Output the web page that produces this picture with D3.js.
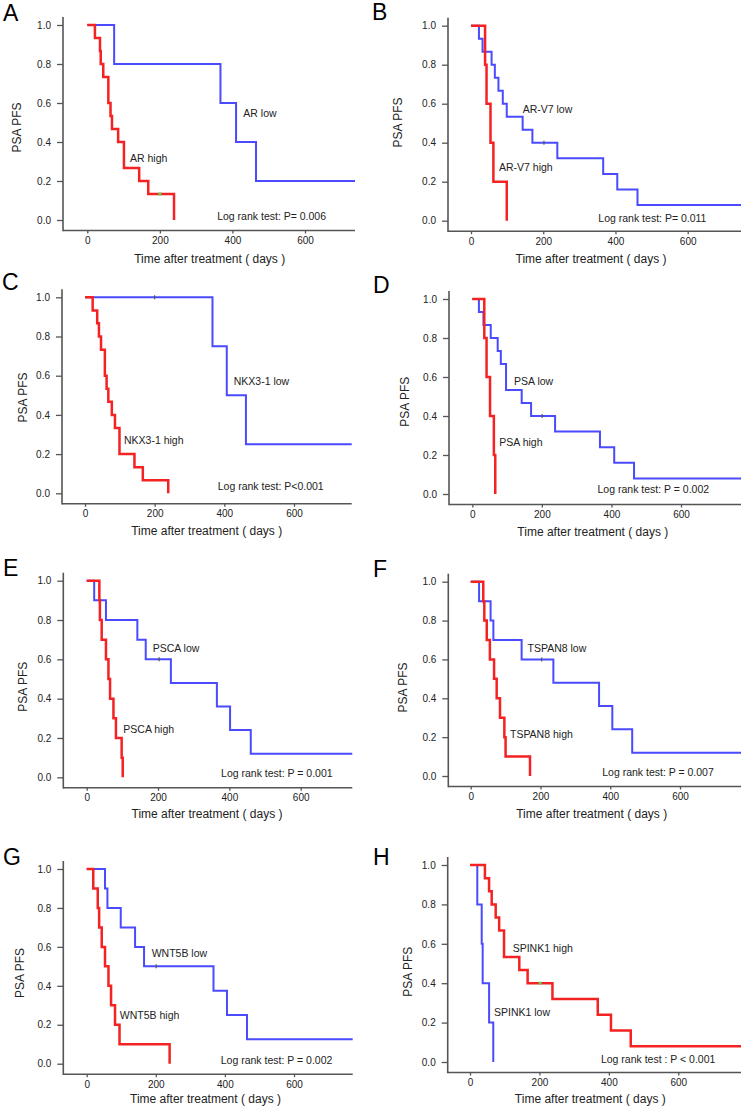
<!DOCTYPE html>
<html>
<head>
<meta charset="utf-8">
<script src="https://cdn.jsdelivr.net/npm/d3@7"></script>
<style>
  body { margin: 0; background: #fff; }
  svg { display: block; font-family: "Liberation Sans", Arial, sans-serif; }
</style>
</head>
<body>
<svg id="chart" width="741" height="1108"></svg>
<script>
// ---- data: [day, survival after the step] ----
const xTicks = [0, 200, 400, 600];
const yTicks = [0, 0.2, 0.4, 0.6, 0.8, 1.0];

const panelLetters = ["A", "B", "C", "D", "E", "F", "G", "H"];
const highNames = ["AR high", "AR-V7 high", "NKX3-1 high", "PSA high", "PSCA high", "TSPAN8 high", "WNT5B high", "SPINK1 high"];
const lowNames = ["AR low", "AR-V7 low", "NKX3-1 low", "PSA low", "PSCA low", "TSPAN8 low", "WNT5B low", "SPINK1 low"];
const pTexts = ["Log rank test: P= 0.006", "Log rank test: P= 0.011", "Log rank test: P<0.001", "Log rank test: P = 0.002",
  "Log rank test: P = 0.001", "Log rank test: P = 0.007", "Log rank test: P = 0.002", "Log rank test : P < 0.001"];

const arHigh = [[0,1],[21,0.933],[35,0.867],[37,0.8],[44,0.733],[58,0.6],[64,0.533],[68,0.467],[85,0.4],[101,0.267],[143,0.2],[168,0.133],[239,0]];
const arLow = [[0,1],[74,0.8],[367,0.6],[410,0.4],[465,0.2]];
const arv7High = [[0,1],[39,0.8],[43,0.6],[54,0.4],[62,0.2],[99,0]];
const arv7Low = [[0,1],[22,0.933],[32,0.867],[57,0.8],[66,0.733],[76,0.667],[88,0.6],[99,0.533],[143,0.467],[170,0.4],[239,0.32],[366,0.24],[405,0.16],[461,0.08]];
const nkxHigh = [[0,1],[22,0.933],[35,0.867],[40,0.8],[46,0.733],[57,0.6],[62,0.533],[67,0.467],[77,0.4],[86,0.333],[99,0.2],[142,0.133],[166,0.067],[239,0]];
const nkxLow = [[0,1],[366,0.75],[407,0.5],[462,0.25]];
const psaHigh = [[0,1],[34.5,0.8],[41,0.6],[51,0.4],[62,0.2],[66,0]];
const psaLow = [[0,1],[19,0.933],[32,0.867],[53,0.8],[73,0.733],[82,0.667],[97,0.533],[142,0.467],[169,0.4],[238,0.32],[367,0.24],[408,0.16],[465,0.08]];
const pscaHigh = [[0,1],[35.5,0.9],[37,0.8],[42,0.7],[54,0.6],[61,0.5],[65.5,0.4],[75,0.3],[82,0.2],[98,0.1],[101,0]];
const pscaLow = [[0,1],[21,0.9],[54,0.8],[142,0.7],[165.5,0.6],[236,0.48],[365,0.36],[402,0.24],[460,0.12]];
const tspanHigh = [[0,1],[36,0.9],[39,0.8],[46,0.7],[55,0.6],[67,0.5],[74.5,0.4],[84,0.3],[96.5,0.2],[100,0.1],[170,0]];
const tspanLow = [[0,1],[24,0.9],[57,0.8],[65,0.7],[146,0.6],[237,0.48],[368,0.36],[406,0.24],[463,0.12]];
const wntHigh = [[0,1],[19,0.9],[32,0.8],[36,0.7],[43.5,0.6],[53,0.5],[63,0.4],[70.5,0.3],[82,0.2],[95,0.1],[240,0]];
const wntLow = [[0,1],[53,0.9],[60,0.8],[98.5,0.7],[140,0.6],[166,0.5],[367,0.375],[406,0.25],[464,0.125]];
const spinkHigh = [[0,1],[43,0.933],[55,0.867],[62.5,0.8],[74,0.733],[84,0.667],[98,0.533],[142,0.467],[166,0.4],[237.5,0.32],[368,0.24],[406,0.16],[463,0.08]];
const spinkLow = [[0,1],[21,0.8],[33.7,0.6],[36.5,0.4],[55,0.2],[67,0]];

const highCurves = [arHigh, arv7High, nkxHigh, psaHigh, pscaHigh, tspanHigh, wntHigh, spinkHigh];
const lowCurves = [arLow, arv7Low, nkxLow, psaLow, pscaLow, tspanLow, wntLow, spinkLow];
const highCensored = [[[200,0.133]], [], [], [], [], [], [], [[202,0.4]]];
const lowCensored = [[], [[202,0.4]], [[200,1]], [[201,0.4]], [[203,0.6]], [[203.5,0.6]], [[201,0.5]], []];

// ---- layout (pixels) ----
const layout = [
  {ax:63,   y1:25,    y0:220,    x0:87.3,  x600:305,   right:355,   yt:[17.2,127.5], xt:[209.7,263],    letter:[3,21],    lowLab:[430,0.53],  highLab:[117.6,0.3],  pLab:[358,0]},
  {ax:448,  y1:25.7,  y0:220.7,  x0:471,   x600:687.7, right:741,   yt:[397.5,122.5],xt:[591,263],      letter:[372,20],  lowLab:[143,0.554], highLab:[77.6,0.256], pLab:[352.6,-0.005]},
  {ax:62,   y1:297.3, y0:493.3,  x0:85,    x600:294,   right:351.7, yt:[23,397.5],   xt:[206.7,535.3],  letter:[2,290],   lowLab:[427,0.553], highLab:[112,0.25],   pLab:[381,0.017]},
  {ax:449,  y1:299,   y0:494,    x0:472.3, x600:681,   right:741,   yt:[405,401.7],  xt:[592.8,535.7],  letter:[373,293], lowLab:[120,0.559], highLab:[77.6,0.248], pLab:[360,0.005]},
  {ax:63.3, y1:580.7, y0:777.3,  x0:86.7,  x600:300.7, right:352.3, yt:[23.3,686.7], xt:[207,817.7],    letter:[3,576],   lowLab:[185,0.639], highLab:[102.7,0.224],pLab:[376.7,0]},
  {ax:448.3,y1:581.7, y0:776,    x0:470.7, x600:680,   right:741,   yt:[403,687.5],  xt:[591.7,818.3],  letter:[373,577], lowLab:[163,0.637], highLab:[112.6,0.194],pLab:[377,0]},
  {ax:63.3, y1:869,   y0:1063.7, x0:86.7,  x600:294,   right:352.7, yt:[20,973],     xt:[205.5,1102.7], letter:[3,865],   lowLab:[188,0.546], highLab:[96,0.23],    pLab:[388,0]},
  {ax:447.7,y1:865,   y0:1062,   x0:470,   x600:678.3, right:741,   yt:[408,971.7],  xt:[590.3,1102.7], letter:[373,865], lowLab:[69,0.233],  highLab:[123,0.56],   pLab:[377,-0.005]}
];

const colors = { high: "#f42222", low: "#4a4aff", axis: "#555", text: "#222", censorHigh: "#66cc55", censorLow: "#555" };

const svg = d3.select("#chart");

function drawPanel(i) {
  const L = layout[i];
  const g = svg.append("g");

  const x = d3.scaleLinear().domain([0, 600]).range([L.x0, L.x600]);
  const y = d3.scaleLinear().domain([0, 1]).range([L.y0, L.y1]);
  const axisY = L.y0 + 10.5;
  const xEnd = x.invert(L.right);

  // axes
  const yAxis = g.append("g")
    .attr("transform", `translate(${L.ax},0)`)
    .call(d3.axisLeft(y).tickValues(yTicks).tickFormat(d3.format(".1f")).tickSize(6).tickPadding(6));
  const xAxis = g.append("g")
    .attr("transform", `translate(0,${axisY})`)
    .call(d3.axisBottom(x).tickValues(xTicks).tickSize(3).tickPadding(3.5));
  [yAxis, xAxis].forEach(a => {
    a.select(".domain").remove();
    a.selectAll("line").attr("stroke", colors.axis).attr("stroke-width", 1.3);
    a.selectAll("text").attr("fill", colors.text).style("font-size", "10px")
      .style("font-family", '"Liberation Sans", Arial, sans-serif');
  });
  g.append("line").attr("x1", L.ax).attr("x2", L.ax).attr("y1", L.y1 - 8).attr("y2", axisY + 0.8)
    .attr("stroke", colors.axis).attr("stroke-width", 1.6);
  g.append("line").attr("x1", L.ax).attr("x2", L.right).attr("y1", axisY).attr("y2", axisY)
    .attr("stroke", colors.axis).attr("stroke-width", 1.6);

  // curves
  const line = d3.line().x(d => x(d[0])).y(d => y(d[1])).curve(d3.curveStepAfter);
  const withEnd = pts => {
    const last = pts[pts.length - 1];
    return last[1] > 0 ? pts.concat([[xEnd, last[1]]]) : pts;
  };
  g.append("path").datum(withEnd(lowCurves[i])).attr("d", line)
    .attr("fill", "none").attr("stroke", colors.low).attr("stroke-width", 2);
  g.append("path").datum(withEnd(highCurves[i])).attr("d", line)
    .attr("fill", "none").attr("stroke", colors.high).attr("stroke-width", 2.5);

  // censor marks
  g.selectAll(".cl").data(lowCensored[i]).join("line")
    .attr("x1", d => x(d[0])).attr("x2", d => x(d[0]))
    .attr("y1", d => y(d[1]) - 2).attr("y2", d => y(d[1]) + 2)
    .attr("stroke", colors.censorLow).attr("stroke-width", 1.2);
  g.selectAll(".ch").data(highCensored[i]).join("rect")
    .attr("x", d => x(d[0]) - 1.5).attr("y", d => y(d[1]) - 1.5)
    .attr("width", 3).attr("height", 3).attr("fill", colors.censorHigh);

  // texts
  const txt = (t, px, py, size, extra) => {
    const el = g.append("text").attr("x", px).attr("y", py).attr("fill", colors.text)
      .style("font-size", size + "px").text(t);
    if (extra) extra(el);
    return el;
  };
  txt(lowNames[i], x(L.lowLab[0]), y(L.lowLab[1]), 10.5);
  txt(highNames[i], x(L.highLab[0]), y(L.highLab[1]), 10.5);
  txt(pTexts[i], x(L.pLab[0]), y(L.pLab[1]), 10.5);
  txt("Time after treatment ( days )", L.xt[0], L.xt[1], 12, el => el.attr("text-anchor", "middle"));
  txt("PSA PFS", 0, 0, 12, el => el.attr("text-anchor", "middle")
    .attr("transform", `translate(${L.yt[0] + 4},${L.yt[1]}) rotate(-90)`));
  g.append("text").attr("x", L.letter[0]).attr("y", L.letter[1]).attr("fill", "#000")
    .style("font-size", "23px").text(panelLetters[i]);
}

panelLetters.forEach((_, i) => drawPanel(i));
</script>
</body>
</html>
